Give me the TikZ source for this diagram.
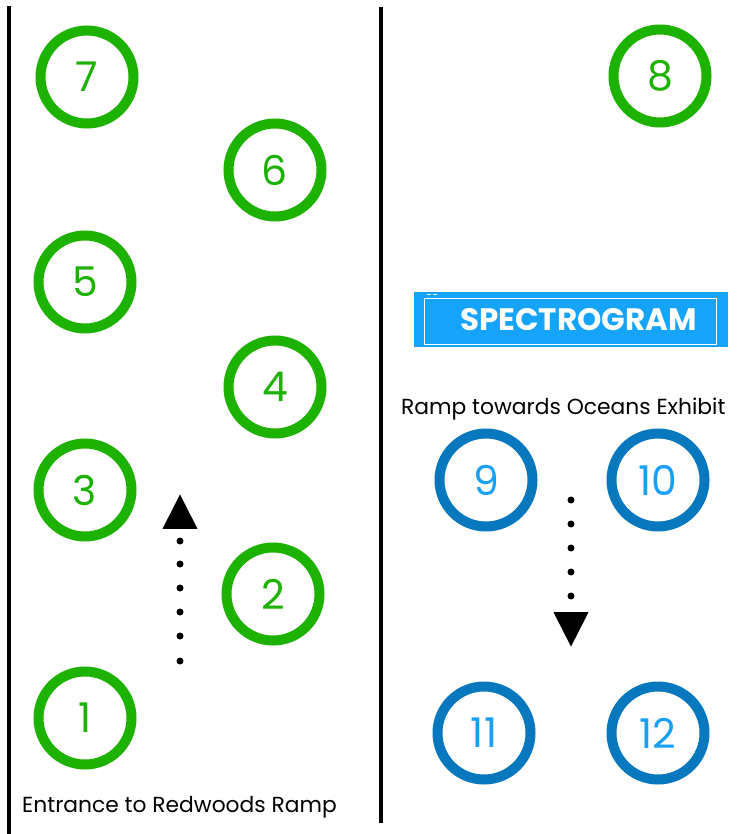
\documentclass[tikz,border=0pt]{standalone}
\usepackage{fontspec}
\setmainfont{Poppins}
\usetikzlibrary{shapes.geometric}
\definecolor{grn}{RGB}{29,177,0}
\definecolor{dblue}{RGB}{8,120,190}
\definecolor{lblue}{RGB}{24,160,245}
\definecolor{sblue}{RGB}{22,163,250}
\tikzset{
  gstop/.style={circle,draw=grn,line width=10pt,minimum size=93pt,inner sep=0pt,text=grn,font=\fontsize{41}{41}\selectfont},
  bstop/.style={circle,draw=dblue,line width=10pt,minimum size=93pt,inner sep=0pt,text=lblue,font=\fontsize{41}{41}\selectfont},
  wall/.style={line width=4pt,black},
  dotmark/.style={circle,fill=black,minimum size=7pt,inner sep=0pt},
  tri/.style={isosceles triangle,isosceles triangle apex angle=54,fill=black,inner sep=0pt,minimum height=34pt,minimum width=35pt},
  lbl/.style={font=\fontsize{21.8}{22}\selectfont,inner sep=0pt}
}
\begin{document}
\begin{tikzpicture}[x=1pt,y=-1pt]
\useasboundingbox (0,0) rectangle (746,834);
% walls
\coordinate (wl1) at (9,6); \coordinate (wl2) at (9,834);
\coordinate (wm1) at (381,7); \coordinate (wm2) at (381,823);
\draw[wall] (wl1) -- (wl2);
\draw[wall] (wm1) -- (wm2);
% green stops
\node[gstop] (s7) at (87,77) {7};
\node[gstop] (s6) at (275,170) {6};
\node[gstop] (s5) at (85,282) {5};
\node[gstop] (s4) at (275,387) {4};
\node[gstop] (s3) at (85,490) {3};
\node[gstop] (s2) at (273,594) {2};
\node[gstop] (s1) at (85,718) {1};
\node[gstop] (s8) at (660,76) {8};
% blue stops
\node[bstop] (s9) at (486,480) {9};
\node[bstop] (s10) at (658,480) {10};
\node[bstop] (s11) at (484,733) {11};
\node[bstop] (s12) at (658,733) {12};
% spectrogram
\node[fill=sblue,minimum width=314pt,minimum height=55pt,inner sep=0pt] (spec) at (571,319.5) {};
\draw[white,line width=1pt] (424,298) rectangle (716,344);
\draw[white,line width=1pt] (427,294) -- (431,294) (433,294) -- (437,294);
\node[text=white,font=\fontsize{31}{31}\selectfont\bfseries,inner sep=0pt] (spect) at (578.5,320) {SPECTROGRAM};
% labels
\node[lbl,anchor=base west] (ocean) at (401,414) {Ramp towards Oceans Exhibit};
\node[lbl,anchor=base west] (entr) at (22,812) {Entrance to Redwoods Ramp};
% up arrow
\foreach \y [count=\i] in {541,564,588,612,636,661} \node[dotmark] (u\i) at (180,\y) {};
\node[tri,shape border rotate=90,anchor=apex] (uarr) at (180,494) {};
% down arrow
\foreach \y [count=\i] in {500,524,548,572,596} \node[dotmark] (d\i) at (571,\y) {};
\node[tri,shape border rotate=270,anchor=apex] (darr) at (571,647) {};
\end{tikzpicture}
\end{document}
